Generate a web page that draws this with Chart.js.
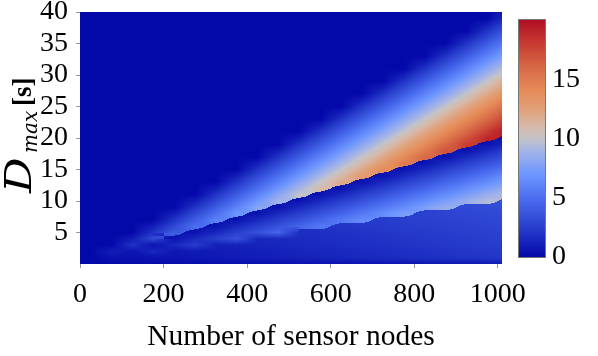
<!DOCTYPE html>
<html>
<head>
<meta charset="utf-8">
<script src="https://cdn.jsdelivr.net/npm/chart.js@4"></script>
<style>
  html, body { margin: 0; padding: 0; background: #fff; }
</style>
</head>
<body>
<canvas id="myChart" width="598" height="356"></canvas>
<script>
// column centres (number of sensor nodes) and row centres (Dmax in s)
const nodes = [25,75,125,175,225,275,325,375,425,475,525,575,625,675,725,775,825,875,925,975,1025];
const dmax = [0,1,2,3,4,5,6,7,8,9,10,11,12,13,14,15,16,17,18,19,20,21,22,23,24,25,26,27,28,29,30,31,32,33,34,35,36,37,38,39,40];

// value read for each cell, one row per dmax entry (bottom row first)
const delay = [
  [0,0,0.1,0.1,0.2,0.2,0.2,0.3,0.3,0.4,0.4,0.4,0.5,0.5,0.6,0.6,0.6,0.7,0.7,0.8,0.8],
  [0,0.5,0.4,0.5,0.6,0.7,0.8,0.9,1,1.1,1.2,1.3,1.4,1.5,1.6,1.7,1.8,1.9,2,2.1,2.2],
  [0,1,0.5,1.5,0.7,0.8,0.9,1,1.1,1.2,1.3,1.4,1.5,1.6,1.7,1.8,1.9,2,2.1,2.2,2.3],
  [0,0,2,0.5,1.5,2.5,1.1,1.2,1.3,1.4,1.5,1.6,1.7,1.8,1.9,2,2.1,2.2,2.3,2.4,2.5],
  [0,0,1,3,0.5,1.5,2.5,3.5,1.4,1.5,1.6,1.7,1.8,1.9,2,2.1,2.2,2.3,2.4,2.5,2.6],
  [0,0,0,2,4,0.5,1.5,2.5,3.5,4.5,1.7,1.8,1.9,2,2.1,2.2,2.3,2.4,2.5,2.6,2.7],
  [0,0,0,1,3,5,0.5,1.5,2.5,3.5,4.5,5.5,2.1,2.2,2.3,2.4,2.5,2.6,2.7,2.8,2.9],
  [0,0,0,0,2,4,6,0.5,1.5,2.5,3.5,4.5,5.5,6.5,2.4,2.5,2.6,2.7,2.8,2.9,3],
  [0,0,0,0,1,3,5,7,0.5,1.5,2.5,3.5,4.5,5.5,6.5,7.5,2.7,2.8,2.9,3,3.1],
  [0,0,0,0,0,2,4,6,8,0.5,1.5,2.5,3.5,4.5,5.5,6.5,7.5,8.5,3.1,3.2,3.3],
  [0,0,0,0,0,1,3,5,7,9,0.5,1.5,2.5,3.5,4.5,5.5,6.5,7.5,8.5,9.5,3.4],
  [0,0,0,0,0,0,2,4,6,8,10,0.5,1.5,2.5,3.5,4.5,5.5,6.5,7.5,8.5,9.5],
  [0,0,0,0,0,0,1,3,5,7,9,11,0.5,1.5,2.5,3.5,4.5,5.5,6.5,7.5,8.5],
  [0,0,0,0,0,0,0,2,4,6,8,10,12,0.5,1.5,2.5,3.5,4.5,5.5,6.5,7.5],
  [0,0,0,0,0,0,0,1,3,5,7,9,11,13,0.5,1.5,2.5,3.5,4.5,5.5,6.5],
  [0,0,0,0,0,0,0,0,2,4,6,8,10,12,14,0.5,1.5,2.5,3.5,4.5,5.5],
  [0,0,0,0,0,0,0,0,1,3,5,7,9,11,13,15,0.5,1.5,2.5,3.5,4.5],
  [0,0,0,0,0,0,0,0,0,2,4,6,8,10,12,14,16,0.5,1.5,2.5,3.5],
  [0,0,0,0,0,0,0,0,0,1,3,5,7,9,11,13,15,17,0.5,1.5,2.5],
  [0,0,0,0,0,0,0,0,0,0,2,4,6,8,10,12,14,16,18,0.5,1.5],
  [0,0,0,0,0,0,0,0,0,0,1,3,5,7,9,11,13,15,17,19,0.5],
  [0,0,0,0,0,0,0,0,0,0,0,2,4,6,8,10,12,14,16,18,20],
  [0,0,0,0,0,0,0,0,0,0,0,1,3,5,7,9,11,13,15,17,19],
  [0,0,0,0,0,0,0,0,0,0,0,0,2,4,6,8,10,12,14,16,18],
  [0,0,0,0,0,0,0,0,0,0,0,0,1,3,5,7,9,11,13,15,17],
  [0,0,0,0,0,0,0,0,0,0,0,0,0,2,4,6,8,10,12,14,16],
  [0,0,0,0,0,0,0,0,0,0,0,0,0,1,3,5,7,9,11,13,15],
  [0,0,0,0,0,0,0,0,0,0,0,0,0,0,2,4,6,8,10,12,14],
  [0,0,0,0,0,0,0,0,0,0,0,0,0,0,1,3,5,7,9,11,13],
  [0,0,0,0,0,0,0,0,0,0,0,0,0,0,0,2,4,6,8,10,12],
  [0,0,0,0,0,0,0,0,0,0,0,0,0,0,0,1,3,5,7,9,11],
  [0,0,0,0,0,0,0,0,0,0,0,0,0,0,0,0,2,4,6,8,10],
  [0,0,0,0,0,0,0,0,0,0,0,0,0,0,0,0,1,3,5,7,9],
  [0,0,0,0,0,0,0,0,0,0,0,0,0,0,0,0,0,2,4,6,8],
  [0,0,0,0,0,0,0,0,0,0,0,0,0,0,0,0,0,1,3,5,7],
  [0,0,0,0,0,0,0,0,0,0,0,0,0,0,0,0,0,0,2,4,6],
  [0,0,0,0,0,0,0,0,0,0,0,0,0,0,0,0,0,0,1,3,5],
  [0,0,0,0,0,0,0,0,0,0,0,0,0,0,0,0,0,0,0,2,4],
  [0,0,0,0,0,0,0,0,0,0,0,0,0,0,0,0,0,0,0,1,3],
  [0,0,0,0,0,0,0,0,0,0,0,0,0,0,0,0,0,0,0,0,2],
  [0,0,0,0,0,0,0,0,0,0,0,0,0,0,0,0,0,0,0,0,1]
];

const xTicks = [0, 200, 400, 600, 800, 1000];
const yTicks = [5, 10, 15, 20, 25, 30, 35, 40];
const cbarTicks = [0, 5, 10, 15];
const cbarMax = 20;

// colour map (value -> rgb)
const cmap = [
  [0, [3, 8, 168]],
  [2.5, [40, 62, 205]],
  [5, [75, 110, 240]],
  [7, [110, 150, 255]],
  [9, [165, 180, 230]],
  [10, [195, 195, 200]],
  [11, [215, 185, 170]],
  [12.5, [225, 160, 120]],
  [14, [230, 140, 90]],
  [16, [215, 105, 70]],
  [18, [200, 60, 50]],
  [20, [175, 15, 35]]
];

function rgbFor(v) {
  if (v <= cmap[0][0]) return cmap[0][1];
  for (let k = 1; k < cmap.length; k++) {
    if (v <= cmap[k][0]) {
      const a = cmap[k - 1], b = cmap[k];
      const t = (v - a[0]) / (b[0] - a[0]);
      return a[1].map((ch, n) => Math.round(ch + (b[1][n] - ch) * t));
    }
  }
  return cmap[cmap.length - 1][1];
}

const FONT = "'Liberation Serif', 'Times New Roman', serif";

const cells = [];
dmax.forEach((d, i) => {
  nodes.forEach((n, j) => {
    cells.push({ x: n, y: d, v: delay[i][j] });
  });
});

// shading between neighbouring cells, kept sharp where the values jump
function shade(fi, fj) {
  const R = dmax.length, C = nodes.length;
  fi = Math.min(Math.max(fi, 0), R - 1);
  fj = Math.min(Math.max(fj, 0), C - 1);
  const i0 = Math.min(Math.floor(fi), R - 2), j0 = Math.min(Math.floor(fj), C - 2);
  const ti = fi - i0, tj = fj - j0;
  const vs = [delay[i0][j0], delay[i0][j0 + 1], delay[i0 + 1][j0], delay[i0 + 1][j0 + 1]];
  const ws = [(1 - ti) * (1 - tj), (1 - ti) * tj, ti * (1 - tj), ti * tj];
  const lo = Math.min(...vs), hi = Math.max(...vs);
  if (hi - lo <= 3.2) {
    return vs.reduce((s, v, k) => s + v * ws[k], 0);
  }
  const mid = (lo + hi) / 2;
  let wa = 0, va = 0, wb = 0, vb = 0;
  vs.forEach((v, k) => {
    if (v >= mid) { wa += ws[k]; va += ws[k] * v; }
    else { wb += ws[k]; vb += ws[k] * v; }
  });
  return wa >= 0.5 ? va / wa : vb / wb;
}

const heatmap = {
  id: 'heatmap',
  beforeDatasetsDraw(chart) {
    const { ctx, chartArea: a, scales } = chart;
    const x = scales.x, y = scales.y;
    const w = Math.round(a.right - a.left), h = Math.round(a.bottom - a.top);
    const img = ctx.createImageData(w, h);
    const dN = nodes[1] - nodes[0], dD = dmax[1] - dmax[0];
    for (let py = 0; py < h; py++) {
      const fi = (y.getValueForPixel(a.top + py + 0.5) - dmax[0]) / dD;
      for (let px = 0; px < w; px++) {
        const fj = (x.getValueForPixel(a.left + px + 0.5) - nodes[0]) / dN;
        const c = rgbFor(shade(fi, fj));
        const o = (py * w + px) * 4;
        img.data[o] = c[0];
        img.data[o + 1] = c[1];
        img.data[o + 2] = c[2];
        img.data[o + 3] = 255;
      }
    }
    ctx.putImageData(img, Math.round(a.left), Math.round(a.top));
  }
};

const colorbar = {
  id: 'colorbar',
  afterDraw(chart) {
    const ctx = chart.ctx;
    const left = 519, right = 545, top = 20, bottom = 257;
    ctx.save();
    for (let py = top; py < bottom; py++) {
      const v = (bottom - py - 0.5) / (bottom - top) * cbarMax;
      ctx.fillStyle = 'rgb(' + rgbFor(v).join(',') + ')';
      ctx.fillRect(left, py, right - left, 1);
    }
    ctx.strokeStyle = '#777';
    ctx.lineWidth = 1;
    ctx.strokeRect(left - 0.5, top - 0.5, right - left + 1, bottom - top + 1);
    ctx.fillStyle = '#000';
    ctx.font = '28px ' + FONT;
    ctx.textAlign = 'left';
    ctx.textBaseline = 'middle';
    cbarTicks.forEach(t => {
      const py = bottom - t / cbarMax * (bottom - top);
      ctx.fillText(String(t), 552, py);
    });
    ctx.restore();
  }
};

const yTitle = {
  id: 'yTitle',
  afterDraw(chart) {
    const ctx = chart.ctx;
    ctx.save();
    ctx.translate(31, 138);
    ctx.rotate(-Math.PI / 2);
    ctx.fillStyle = '#000';
    ctx.textBaseline = 'alphabetic';
    ctx.textAlign = 'left';
    ctx.save();
    ctx.scale(1.2, 1);
    ctx.font = "italic 37px 'DejaVu Serif', serif";
    ctx.fillText('D', -55 / 1.2, 0);
    ctx.restore();
    ctx.font = "italic 20px 'DejaVu Serif', serif";
    ctx.fillText('max', -15, 6);
    ctx.font = 'bold 27px ' + FONT;
    ctx.fillText('[s]', 32, 0);
    ctx.restore();
  }
};

new Chart(document.getElementById('myChart'), {
  type: 'scatter',
  data: {
    datasets: [{ label: 'delay', data: cells, pointRadius: 0, pointHoverRadius: 0 }]
  },
  options: {
    responsive: false,
    animation: false,
    events: [],
    layout: { padding: { left: 0, right: 96, top: 12, bottom: 0 } },
    plugins: { legend: { display: false }, tooltip: { enabled: false } },
    scales: {
      x: {
        type: 'linear',
        min: 0,
        max: 1010,
        afterBuildTicks: s => { s.ticks = xTicks.map(v => ({ value: v })); },
        afterFit: s => { s.height = 92; s.paddingLeft = 0; s.paddingRight = 0; },
        ticks: { color: '#000', font: { family: FONT, size: 28 }, padding: 10, maxRotation: 0, autoSkip: false, callback: v => String(v) },
        grid: { drawOnChartArea: false, tickLength: 4, color: '#999' },
        border: { display: false },
        title: {
          display: true,
          text: 'Number of sensor nodes',
          color: '#000',
          font: { family: FONT, size: 29.5 },
          padding: { top: 0, bottom: 1 }
        }
      },
      y: {
        type: 'linear',
        min: 0,
        max: 40,
        afterBuildTicks: s => { s.ticks = yTicks.map(v => ({ value: v })); },
        afterFit: s => { s.width = 80; s.paddingTop = 0; s.paddingBottom = 0; },
        ticks: { color: '#000', font: { family: FONT, size: 28 }, padding: 8, autoSkip: false, callback: v => String(v) },
        grid: { drawOnChartArea: false, tickLength: 4, color: '#999' },
        border: { display: false }
      }
    }
  },
  plugins: [heatmap, colorbar, yTitle]
});
</script>
</body>
</html>
